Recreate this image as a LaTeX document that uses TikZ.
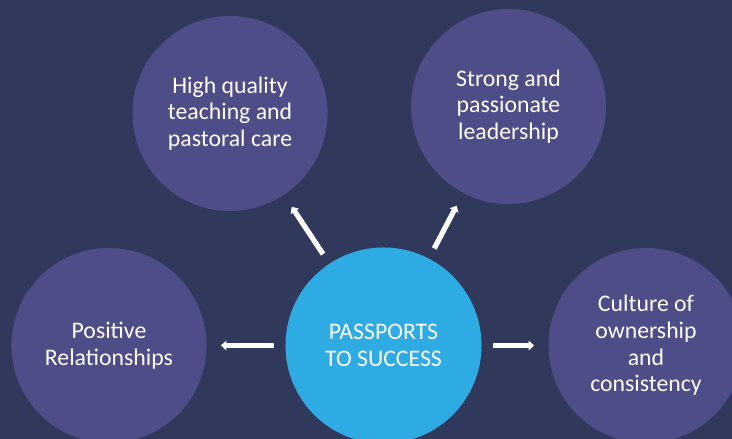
\documentclass[tikz,border=0pt]{standalone}
\usepackage{fontspec}
\setmainfont{Carlito}
\usetikzlibrary{arrows.meta}
\definecolor{navy}{HTML}{30395B}
\definecolor{plum}{HTML}{4E4D88}
\definecolor{sky}{HTML}{2EABE2}

\begin{document}
\begin{tikzpicture}[x=0.025cm, y=-0.025cm,
  ball/.style={circle, fill=plum, minimum size=4.875cm, inner sep=0pt, text=white, align=center, font=\fontsize{16.9}{18.9}\selectfont},
  hub/.style={ball, fill=sky, minimum size=4.9cm},
  arr/.style={draw=white, line width=0.13cm, -{Triangle[length=0.14cm,width=0.24cm]}, shorten <=0.28cm, shorten >=0.35cm}]
\fill[navy] (0,0) rectangle (732,439);
\useasboundingbox (0,0) rectangle (732,439);

\node[hub] at (383.5,345.5) (pass) {PASSPORTS\\TO SUCCESS};
\node[ball] at (230,113.5) (teach) {High quality\\teaching and\\pastoral care};
\node[ball] at (508.5,106.5) (lead) {Strong and\\passionate\\leadership};
\node[ball] at (109,345.5) (rel) {Positive\\Relationships};
\node[ball] at (646,345.5) (cult) {Culture of\\ownership\\and\\consistency};

\draw[arr] (pass) -- (teach);
\draw[arr] (pass) -- (lead);
\draw[arr] (pass) -- (rel);
\draw[arr] (pass) -- (cult);
\end{tikzpicture}
\end{document}
